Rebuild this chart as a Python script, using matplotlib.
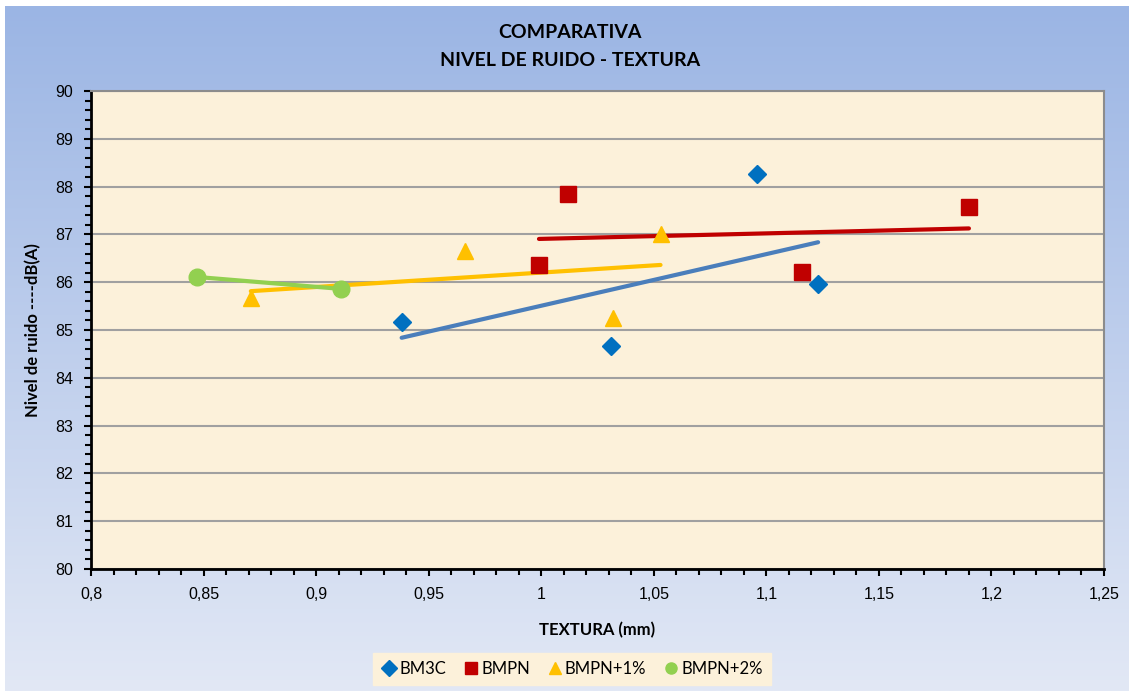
import matplotlib.pyplot as plt
import numpy as np
from matplotlib.ticker import MultipleLocator, FuncFormatter
from matplotlib.colors import LinearSegmentedColormap

# datos: textura (mm) y nivel de ruido dB(A)
bm3c_x = [0.938, 1.031, 1.096, 1.123]
bm3c_y = [85.17, 84.67, 88.26, 85.96]
bmpn_x = [1.012, 0.999, 1.116, 1.190]
bmpn_y = [87.85, 86.36, 86.21, 87.57]
bmpn1_x = [0.871, 0.966, 1.032, 1.053]
bmpn1_y = [85.67, 86.65, 85.25, 87.00]
bmpn2_x = [0.847, 0.911]
bmpn2_y = [86.11, 85.86]

nombres = ["BM3C", "BMPN", "BMPN+1%", "BMPN+2%"]
colores = ["#0070c0", "#c00000", "#ffc000", "#92d050"]
colores_tend = ["#4a7ebb", "#c00000", "#ffc000", "#92d050"]
marcadores = ["D", "s", "^", "o"]
tamanos = [9, 11, 12, 12]

plt.rcParams["font.family"] = ["Liberation Sans", "DejaVu Sans"]

fig = plt.figure(figsize=(11.29, 6.91), dpi=100)
fig.patch.set_facecolor("white")

# fondo degradado azul
bg = fig.add_axes([0.004, 0, 0.996, 0.991])
bg.set_zorder(-10)
cmap = LinearSegmentedColormap.from_list("fondo", ["#e2e8f5", "#9bb5e4"])
grad = np.linspace(0, 1, 256).reshape(-1, 1)
bg.imshow(grad, aspect="auto", cmap=cmap, origin="lower", extent=[0, 1, 0, 1])
bg.axis("off")

ax = fig.add_axes([91 / 1129, 1 - 569 / 691, 1013 / 1129, 478 / 691])
ax.set_facecolor("#fcf1da")

series = [(bm3c_x, bm3c_y), (bmpn_x, bmpn_y), (bmpn1_x, bmpn1_y), (bmpn2_x, bmpn2_y)]
for (x, y), n, c, ct, m, s in zip(series, nombres, colores, colores_tend, marcadores, tamanos):
    x = np.array(x)
    y = np.array(y)
    # linea de tendencia lineal
    p = np.polyfit(x, y, 1)
    xs = np.array([x.min(), x.max()])
    ax.plot(xs, np.polyval(p, xs), color=ct, lw=3, solid_capstyle="round", zorder=3)
    ax.plot(x, y, ls="none", marker=m, ms=s, color=c, mec=c, label=n, zorder=4)

ax.set_xlim(0.8, 1.25)
ax.set_ylim(80, 90)
ax.xaxis.set_major_locator(MultipleLocator(0.05))
ax.xaxis.set_minor_locator(MultipleLocator(0.01))
ax.yaxis.set_major_locator(MultipleLocator(1))
ax.yaxis.set_minor_locator(MultipleLocator(0.2))
ax.xaxis.set_major_formatter(FuncFormatter(lambda v, p: ("%g" % round(v, 2)).replace(".", ",")))
ax.grid(axis="y", which="major", color="#a0a0a0", lw=1.5, zorder=1)
ax.set_axisbelow(True)

for lado in ["top", "right"]:
    ax.spines[lado].set_color("#8c8c8c")
    ax.spines[lado].set_linewidth(1.5)
for lado in ["left", "bottom"]:
    ax.spines[lado].set_color("black")
    ax.spines[lado].set_linewidth(2)

ax.tick_params(which="major", direction="out", length=5, width=1.5, labelsize=11.5, pad=8)
ax.tick_params(which="minor", direction="out", length=4, width=1.5)

ax.set_xlabel("TEXTURA (mm)", fontsize=12, fontweight="bold", family="Lato", labelpad=14)
ax.set_ylabel("Nivel de ruido ----dB(A)", fontsize=12, fontweight="bold", family="Lato", labelpad=10)

fig.text(0.505, 1 - 32 / 691, "COMPARATIVA", ha="center", va="center",
         fontsize=14, fontweight="bold", family="Lato")
fig.text(0.505, 1 - 60 / 691, "NIVEL DE RUIDO - TEXTURA", ha="center", va="center",
         fontsize=14, fontweight="bold", family="Lato")

leg = fig.legend(loc="center", bbox_to_anchor=(572 / 1129, 1 - 669 / 691), ncol=4,
                 frameon=True, fancybox=False, handletextpad=0.1,
                 columnspacing=1.0, handlelength=1.0, borderpad=0.5,
                 prop={"family": "Lato", "size": 12})
leg.get_frame().set_facecolor("#fcf1da")
leg.get_frame().set_edgecolor("#fcf1da")
leg.get_frame().set_alpha(1)
for h in leg.legend_handles:
    h.set_markersize(8)

fig.savefig("out.png", dpi=100)
